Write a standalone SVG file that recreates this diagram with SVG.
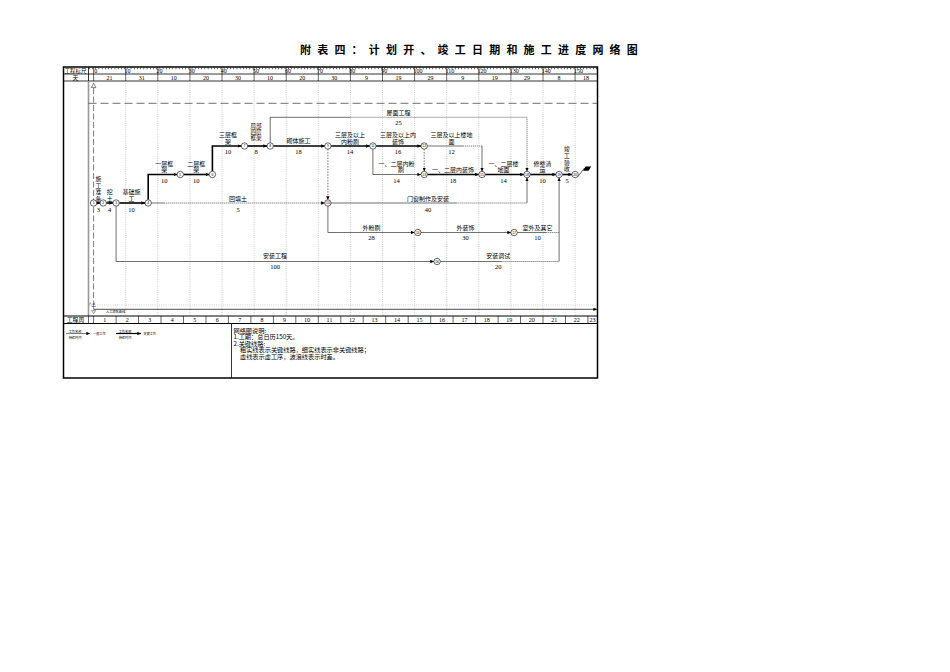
<svg xmlns="http://www.w3.org/2000/svg" width="950" height="672" viewBox="0 0 950 672">
<style>
text{font-family:"Noto Sans CJK SC","Liberation Sans",sans-serif;fill:#000;dominant-baseline:central}
.t{font-size:6px;text-anchor:middle}
.n{font-family:"Liberation Serif","Noto Sans CJK SC",serif;font-size:6.5px;text-anchor:middle}
.h{font-size:5.8px;text-anchor:middle}
.hn{font-family:"Liberation Serif",serif;font-size:6px;text-anchor:middle}
.hs{font-family:"Liberation Serif",serif;font-size:6px;text-anchor:start}
.note{font-size:6.2px;text-anchor:start}
.tiny{font-size:3.2px;text-anchor:middle}
.crit{stroke:#000;stroke-width:1.6;fill:none}
.thin{stroke:#333;stroke-width:0.7;fill:none}
.wave{stroke:#555;stroke-width:0.8;stroke-dasharray:1.2 0.8;fill:none}
.dummy{stroke:#333;stroke-width:0.7;stroke-dasharray:1.5 1.3;fill:none}
.grid{stroke:#9a9a9a;stroke-width:0.5;stroke-dasharray:1 1.2;fill:none}
.node circle{fill:#fff;stroke:#000;stroke-width:0.6}
.node text{font-family:"Liberation Sans",sans-serif;font-size:3.4px;text-anchor:middle}
.frame{stroke:#000;fill:none}
</style>
<defs>
<marker id="ar" markerUnits="userSpaceOnUse" markerWidth="4" markerHeight="3.4" refX="3.6" refY="1.7" orient="auto">
<path d="M0,0 L3.8,1.7 L0,3.4 z" fill="#000"/>
</marker>
</defs>
<rect width="950" height="672" fill="#fff"/>

<text x="300" y="49" style="font-size:11px;font-weight:bold;letter-spacing:6.2px;text-anchor:start">附表四：计划开、竣工日期和施工进度网络图</text>

<g id="frame">
<rect x="63.5" y="67" width="534" height="311" class="frame" stroke-width="1.5"/>
<line x1="63" y1="74" x2="597" y2="74" class="frame" stroke-width="0.8"/>
<line x1="63" y1="81" x2="597" y2="81" class="frame" stroke-width="0.8"/>
<line x1="88.5" y1="67" x2="88.5" y2="81" class="frame" stroke-width="0.8"/>
<line x1="89" y1="68.6" x2="597" y2="68.6" stroke="#000" stroke-width="1.2" stroke-dasharray="0.6 2.61"/>
<text x="75.5" y="70.6" class="h" style="font-size:5.4px">工程标尺</text>
<text x="75.5" y="77.6" class="h">天</text>
<g stroke="#000" stroke-width="0.6">
<line x1="93.6" y1="67" x2="93.6" y2="81"/>
<line x1="125.7" y1="67" x2="125.7" y2="81"/><line x1="157.8" y1="67" x2="157.8" y2="81"/>
<line x1="189.9" y1="67" x2="189.9" y2="81"/><line x1="222" y1="67" x2="222" y2="81"/>
<line x1="254.1" y1="67" x2="254.1" y2="81"/><line x1="286.2" y1="67" x2="286.2" y2="81"/>
<line x1="318.3" y1="67" x2="318.3" y2="81"/><line x1="350.4" y1="67" x2="350.4" y2="81"/>
<line x1="382.5" y1="67" x2="382.5" y2="81"/><line x1="414.6" y1="67" x2="414.6" y2="81"/>
<line x1="446.7" y1="67" x2="446.7" y2="81"/><line x1="478.8" y1="67" x2="478.8" y2="81"/>
<line x1="510.9" y1="67" x2="510.9" y2="81"/><line x1="543" y1="67" x2="543" y2="81"/>
<line x1="575.1" y1="67" x2="575.1" y2="81"/>
</g>
<g>
<text x="94.2" y="71.3" class="hs">0</text><text x="124.5" y="71.3" class="hs">10</text>
<text x="156.6" y="71.3" class="hs">20</text><text x="188.7" y="71.3" class="hs">30</text>
<text x="220.8" y="71.3" class="hs">40</text><text x="252.9" y="71.3" class="hs">50</text>
<text x="285" y="71.3" class="hs">60</text><text x="317.1" y="71.3" class="hs">70</text>
<text x="349.2" y="71.3" class="hs">80</text><text x="381.3" y="71.3" class="hs">90</text>
<text x="413.4" y="71.3" class="hs">100</text><text x="445.5" y="71.3" class="hs">110</text>
<text x="477.6" y="71.3" class="hs">120</text><text x="509.7" y="71.3" class="hs">130</text>
<text x="541.8" y="71.3" class="hs">140</text><text x="573.9" y="71.3" class="hs">150</text>
</g>
<g>
<text x="109.6" y="77.8" class="hn">21</text><text x="141.7" y="77.8" class="hn">31</text>
<text x="173.8" y="77.8" class="hn">10</text><text x="206" y="77.8" class="hn">20</text>
<text x="238" y="77.8" class="hn">30</text><text x="270.1" y="77.8" class="hn">10</text>
<text x="302.2" y="77.8" class="hn">20</text><text x="334.3" y="77.8" class="hn">30</text>
<text x="366.4" y="77.8" class="hn">9</text><text x="398.5" y="77.8" class="hn">19</text>
<text x="430.6" y="77.8" class="hn">29</text><text x="462.7" y="77.8" class="hn">9</text>
<text x="494.8" y="77.8" class="hn">19</text><text x="526.9" y="77.8" class="hn">29</text>
<text x="559" y="77.8" class="hn">8</text><text x="586" y="77.8" class="hn">18</text>
</g>
<g class="grid">
<line x1="125.7" y1="81" x2="125.7" y2="316"/><line x1="157.8" y1="81" x2="157.8" y2="316"/>
<line x1="189.9" y1="81" x2="189.9" y2="316"/><line x1="222" y1="81" x2="222" y2="316"/>
<line x1="254.1" y1="81" x2="254.1" y2="316"/><line x1="286.2" y1="81" x2="286.2" y2="316"/>
<line x1="318.3" y1="81" x2="318.3" y2="316"/><line x1="350.4" y1="81" x2="350.4" y2="316"/>
<line x1="382.5" y1="81" x2="382.5" y2="316"/><line x1="414.6" y1="81" x2="414.6" y2="316"/>
<line x1="446.7" y1="81" x2="446.7" y2="316"/><line x1="478.8" y1="81" x2="478.8" y2="316"/>
<line x1="510.9" y1="81" x2="510.9" y2="316"/><line x1="543" y1="81" x2="543" y2="316"/>
<line x1="575.1" y1="81" x2="575.1" y2="316"/>
</g>
<line x1="88.5" y1="81" x2="88.5" y2="316" stroke="#999" stroke-width="1.6"/>
<line x1="93.6" y1="88" x2="93.6" y2="302" stroke="#444" stroke-width="0.7" stroke-dasharray="6 2.5"/>
<polygon points="93.6,83.2 91.4,87.6 95.8,87.6" fill="#fff" stroke="#000" stroke-width="0.5"/>
<line x1="88.5" y1="103.3" x2="597" y2="103.3" stroke="#333" stroke-width="0.7" stroke-dasharray="8 4"/>

<line x1="88.5" y1="305" x2="597" y2="305" class="grid"/>
<line x1="93.6" y1="302" x2="93.6" y2="309.3" stroke="#444" stroke-width="0.6"/>
<line x1="91.5" y1="306.5" x2="95.7" y2="306.5" stroke="#444" stroke-width="0.6"/>
<line x1="93.6" y1="309.3" x2="597" y2="309.3" stroke="#000" stroke-width="0.7" marker-end="url(#ar)"/>
<polygon points="91.6,310.6 95.6,310.6 93.6,313.6" fill="#fff" stroke="#000" stroke-width="0.4"/>
<text x="88.8" y="304" class="tiny" style="text-anchor:start;font-size:3px">人/d</text>
<text x="106" y="311.8" class="tiny" style="text-anchor:start">人工消耗曲线</text>

<line x1="63" y1="316" x2="597" y2="316" class="frame" stroke-width="1"/>
<line x1="63" y1="323.5" x2="597" y2="323.5" class="frame" stroke-width="1"/>
<line x1="231.5" y1="323.5" x2="231.5" y2="378" class="frame" stroke-width="0.8"/>
<text x="75.5" y="319.8" class="h">工程周</text>
<g stroke="#000" stroke-width="0.6">
<line x1="88.5" y1="316" x2="88.5" y2="323.5"/><line x1="93.6" y1="316" x2="93.6" y2="323.5"/>
<line x1="116.1" y1="316" x2="116.1" y2="323.5"/><line x1="138.5" y1="316" x2="138.5" y2="323.5"/>
<line x1="161" y1="316" x2="161" y2="323.5"/><line x1="183.5" y1="316" x2="183.5" y2="323.5"/>
<line x1="206" y1="316" x2="206" y2="323.5"/><line x1="228.4" y1="316" x2="228.4" y2="323.5"/>
<line x1="250.9" y1="316" x2="250.9" y2="323.5"/><line x1="273.4" y1="316" x2="273.4" y2="323.5"/>
<line x1="295.8" y1="316" x2="295.8" y2="323.5"/><line x1="318.3" y1="316" x2="318.3" y2="323.5"/>
<line x1="340.8" y1="316" x2="340.8" y2="323.5"/><line x1="363.2" y1="316" x2="363.2" y2="323.5"/>
<line x1="385.7" y1="316" x2="385.7" y2="323.5"/><line x1="408.2" y1="316" x2="408.2" y2="323.5"/>
<line x1="430.7" y1="316" x2="430.7" y2="323.5"/><line x1="453.1" y1="316" x2="453.1" y2="323.5"/>
<line x1="475.6" y1="316" x2="475.6" y2="323.5"/><line x1="498.1" y1="316" x2="498.1" y2="323.5"/>
<line x1="520.5" y1="316" x2="520.5" y2="323.5"/><line x1="543" y1="316" x2="543" y2="323.5"/>
<line x1="565.5" y1="316" x2="565.5" y2="323.5"/><line x1="587.9" y1="316" x2="587.9" y2="323.5"/>
</g>
<g>
<text x="104.8" y="320" class="hn">1</text><text x="127.3" y="320" class="hn">2</text>
<text x="149.8" y="320" class="hn">3</text><text x="172.2" y="320" class="hn">4</text>
<text x="194.7" y="320" class="hn">5</text><text x="217.2" y="320" class="hn">6</text>
<text x="239.7" y="320" class="hn">7</text><text x="262.1" y="320" class="hn">8</text>
<text x="284.6" y="320" class="hn">9</text><text x="307.1" y="320" class="hn">10</text>
<text x="329.5" y="320" class="hn">11</text><text x="352" y="320" class="hn">12</text>
<text x="374.5" y="320" class="hn">13</text><text x="396.9" y="320" class="hn">14</text>
<text x="419.4" y="320" class="hn">15</text><text x="441.9" y="320" class="hn">16</text>
<text x="464.4" y="320" class="hn">17</text><text x="486.8" y="320" class="hn">18</text>
<text x="509.3" y="320" class="hn">19</text><text x="531.8" y="320" class="hn">20</text>
<text x="554.2" y="320" class="hn">21</text><text x="576.7" y="320" class="hn">22</text>
<text x="592.5" y="320" class="hn">23</text>
</g>
</g>

<g id="legend">
<text class="tiny"><tspan x="75" y="330.8">工作名称</tspan><tspan x="75" y="336.6">持续时间</tspan></text>
<line x1="66" y1="333.5" x2="90" y2="333.5" stroke="#000" stroke-width="0.5" marker-end="url(#ar)"/>
<text x="93" y="333.5" class="tiny" style="text-anchor:start">一般工作</text>
<text class="tiny"><tspan x="125" y="330.8">工作名称</tspan><tspan x="125" y="336.6">持续时间</tspan></text>
<line x1="116" y1="333.5" x2="141" y2="333.5" stroke="#000" stroke-width="1.2" marker-end="url(#ar)"/>
<text x="143.3" y="333.5" class="tiny" style="text-anchor:start">关键工作</text>
</g>

<g id="notes">
<text class="note"><tspan x="233.5" y="329.5">网络图说明:</tspan><tspan x="233.5" y="336.2">1.工期：总日历150天。</tspan><tspan x="233.5" y="342.9">2.关键线路:</tspan><tspan x="240" y="349.4">粗实线表示关键线路，细实线表示非关键线路；</tspan><tspan x="240" y="356">虚线表示虚工序，波浪线表示时差。</tspan></text>
</g>

<g id="connectors">
<path class="crit" d="M96.8,203 H100" marker-end="url(#ar)"/>
<path class="crit" d="M106.4,203 H112.9" marker-end="url(#ar)"/>
<path class="crit" d="M119.3,203 H145" marker-end="url(#ar)"/>
<path class="crit" d="M148.2,199.8 V174.5 H177.1" marker-end="url(#ar)"/>
<path class="crit" d="M183.5,174.5 H209.2" marker-end="url(#ar)"/>
<path class="crit" d="M212.4,171.3 V146 H241.3" marker-end="url(#ar)"/>
<path class="crit" d="M247.7,146 H267" marker-end="url(#ar)"/>
<path class="crit" d="M273.4,146 H324.7" marker-end="url(#ar)"/>
<path class="crit" d="M331.1,146 H369.7" marker-end="url(#ar)"/>
<path class="crit" d="M376.1,146 H421" marker-end="url(#ar)"/>
<path class="dummy" d="M424.2,149.2 V171.3" marker-end="url(#ar)"/>
<path class="crit" d="M427.4,174.5 H478.8" marker-end="url(#ar)"/>
<path class="crit" d="M485.2,174.5 H523.8" marker-end="url(#ar)"/>
<path class="crit" d="M530.2,174.5 H555.9" marker-end="url(#ar)"/>
<path class="crit" d="M562.3,174.5 H571.9" marker-end="url(#ar)"/>
<path class="thin" d="M151.4,203 H164.2"/>
<path class="wave" d="M164.2,203 H324.7" marker-end="url(#ar)"/>
<path class="dummy" d="M327.9,149.2 V199.8" marker-end="url(#ar)"/>
<path class="thin" d="M270.2,142.8 V117.3 H350.4"/>
<path class="wave" d="M350.4,117.3 H527 V171.3" marker-end="url(#ar)"/>
<path class="thin" d="M427.4,146 H462.8"/>
<path class="wave" d="M462.8,146 H482"/>
<path class="thin" d="M482,146 V171.3" marker-end="url(#ar)"/>
<path class="thin" d="M372.9,149.2 V174.5 H417.8"/>
<path class="wave" d="M417.8,174.5 H421" marker-end="url(#ar)"/>
<path class="thin" d="M331.1,203 H456.3"/>
<path class="wave" d="M456.3,203 H527"/>
<path class="thin" d="M527,203 V177.7" marker-end="url(#ar)"/>
<path class="thin" d="M327.9,206.2 V232.5 H414.6" marker-end="url(#ar)"/>
<path class="thin" d="M421,232.5 H510.9" marker-end="url(#ar)"/>
<path class="thin" d="M517.3,232.5 H546.2"/>
<path class="wave" d="M546.2,232.5 H559.1"/>
<path class="thin" d="M116.1,206.2 V261.5 H433.9" marker-end="url(#ar)"/>
<path class="thin" d="M440.3,261.5 H501.3"/>
<path class="wave" d="M501.3,261.5 H559.1"/>
<path class="thin" d="M559.1,261.5 V177.7" marker-end="url(#ar)"/>
<path d="M578,176.5 L584.5,168" stroke="#000" stroke-width="0.6" fill="none"/>
<polygon points="583,170.8 585.6,166.4 591.2,166.4 588.6,170.8" fill="#000"/>
</g>

<g id="labels">
<text class="t" style="font-size:5.8px"><tspan x="98.4" y="178">施</tspan><tspan x="98.4" y="184.7">工</tspan><tspan x="98.4" y="191.4">准</tspan><tspan x="98.4" y="198">备</tspan></text>
<text x="98.4" y="209" class="n">3</text>
<text class="t"><tspan x="109.7" y="190.6">挖</tspan><tspan x="109.7" y="197.6">土</tspan></text>
<text x="109.7" y="209" class="n">4</text>
<text class="t"><tspan x="131.5" y="191">基础施</tspan><tspan x="131.5" y="198">工</tspan></text>
<text x="131.5" y="209" class="n">10</text>
<text class="t"><tspan x="164.2" y="162.5">一层框</tspan><tspan x="164.2" y="169.4">架</tspan></text>
<text x="164.2" y="180.5" class="n">10</text>
<text class="t"><tspan x="196.3" y="162.5">二层框</tspan><tspan x="196.3" y="169.4">架</tspan></text>
<text x="196.3" y="180.5" class="n">10</text>
<text class="t"><tspan x="228" y="134">三层框</tspan><tspan x="228" y="140.9">架</tspan></text>
<text x="228" y="151.5" class="n">10</text>
<text class="t" style="font-size:5.6px"><tspan x="256" y="125.6">局部</tspan><tspan x="256" y="132">四层</tspan><tspan x="256" y="138.4">框架</tspan></text>
<text x="256" y="151.5" class="n">8</text>
<text x="298.5" y="140.8" class="t">砌体施工</text>
<text x="298.5" y="151.5" class="n">18</text>
<text class="t"><tspan x="350" y="134">三层及以上</tspan><tspan x="350" y="140.9">内粉刷</tspan></text>
<text x="350" y="151.5" class="n">14</text>
<text class="t"><tspan x="398" y="134">三层及以上内</tspan><tspan x="398" y="140.9">装饰</tspan></text>
<text x="398" y="151.5" class="n">16</text>
<text class="t"><tspan x="451.5" y="134">三层及以上楼地</tspan><tspan x="451.5" y="140.9">面</tspan></text>
<text x="451.5" y="151.5" class="n">12</text>
<text x="398.6" y="112" class="t">屋面工程</text>
<text x="398.6" y="122.5" class="n">25</text>
<text class="t"><tspan x="396.5" y="162.5">一、二层内粉</tspan><tspan x="401" y="169.4">刷</tspan></text>
<text x="396.5" y="180.5" class="n">14</text>
<text x="453" y="169.3" class="t">一、二层内装饰</text>
<text x="453" y="180.5" class="n">18</text>
<text class="t"><tspan x="503.5" y="162.5">一、二层楼</tspan><tspan x="503.5" y="169.4">地面</tspan></text>
<text x="503.5" y="180.5" class="n">14</text>
<text class="t"><tspan x="542.5" y="162.5">修整清</tspan><tspan x="542.5" y="169.4">运</tspan></text>
<text x="542.5" y="180.5" class="n">10</text>
<text class="t" style="font-size:5.8px"><tspan x="567" y="148.3">竣</tspan><tspan x="567" y="155">工</tspan><tspan x="567" y="161.7">验</tspan><tspan x="567" y="168.3">收</tspan></text>
<text x="567" y="180.5" class="n">5</text>
<text x="238" y="198" class="t">回填土</text>
<text x="238" y="209" class="n">5</text>
<text x="428" y="198" class="t">门窗制作及安装</text>
<text x="428" y="209" class="n">40</text>
<text x="371.5" y="227" class="t">外粉刷</text>
<text x="371.5" y="237.5" class="n">28</text>
<text x="465.5" y="227" class="t">外装饰</text>
<text x="465.5" y="237.5" class="n">30</text>
<text x="537.5" y="227" class="t">室外及其它</text>
<text x="537.5" y="237.5" class="n">10</text>
<text x="275" y="255.5" class="t">安装工程</text>
<text x="275" y="266" class="n">100</text>
<text x="498.3" y="255.5" class="t">安装调试</text>
<text x="498.3" y="266" class="n">20</text>
</g>

<g id="node-1" class="node"><circle cx="93.6" cy="203" r="3.2"/><text x="93.6" y="203">1</text></g>
<g id="node-2" class="node"><circle cx="103.2" cy="203" r="3.2"/><text x="103.2" y="203">2</text></g>
<g id="node-3" class="node"><circle cx="116.1" cy="203" r="3.2"/><text x="116.1" y="203">3</text></g>
<g id="node-4" class="node"><circle cx="148.2" cy="203" r="3.2"/><text x="148.2" y="203">4</text></g>
<g id="node-5" class="node"><circle cx="180.3" cy="174.5" r="3.2"/><text x="180.3" y="174.5">5</text></g>
<g id="node-6" class="node"><circle cx="212.4" cy="174.5" r="3.2"/><text x="212.4" y="174.5">6</text></g>
<g id="node-7" class="node"><circle cx="244.5" cy="146" r="3.2"/><text x="244.5" y="146">7</text></g>
<g id="node-8" class="node"><circle cx="270.2" cy="146" r="3.2"/><text x="270.2" y="146">8</text></g>
<g id="node-9" class="node"><circle cx="327.9" cy="146" r="3.2"/><text x="327.9" y="146">9</text></g>
<g id="node-10" class="node"><circle cx="327.9" cy="203" r="3.2"/><text x="327.9" y="203">10</text></g>
<g id="node-11" class="node"><circle cx="372.9" cy="146" r="3.2"/><text x="372.9" y="146">11</text></g>
<g id="node-12" class="node"><circle cx="424.2" cy="146" r="3.2"/><text x="424.2" y="146">12</text></g>
<g id="node-13" class="node"><circle cx="424.2" cy="174.5" r="3.2"/><text x="424.2" y="174.5">13</text></g>
<g id="node-14" class="node"><circle cx="417.8" cy="232.5" r="3.2"/><text x="417.8" y="232.5">14</text></g>
<g id="node-15" class="node"><circle cx="482" cy="174.5" r="3.2"/><text x="482" y="174.5">15</text></g>
<g id="node-16" class="node"><circle cx="437.1" cy="261.5" r="3.2"/><text x="437.1" y="261.5">16</text></g>
<g id="node-17" class="node"><circle cx="514.1" cy="232.5" r="3.2"/><text x="514.1" y="232.5">17</text></g>
<g id="node-18" class="node"><circle cx="527" cy="174.5" r="3.2"/><text x="527" y="174.5">18</text></g>
<g id="node-19" class="node"><circle cx="559.1" cy="174.5" r="3.2"/><text x="559.1" y="174.5">19</text></g>
<g id="node-20" class="node"><circle cx="575.1" cy="174.5" r="3.2"/><text x="575.1" y="174.5">20</text></g>
</svg>
